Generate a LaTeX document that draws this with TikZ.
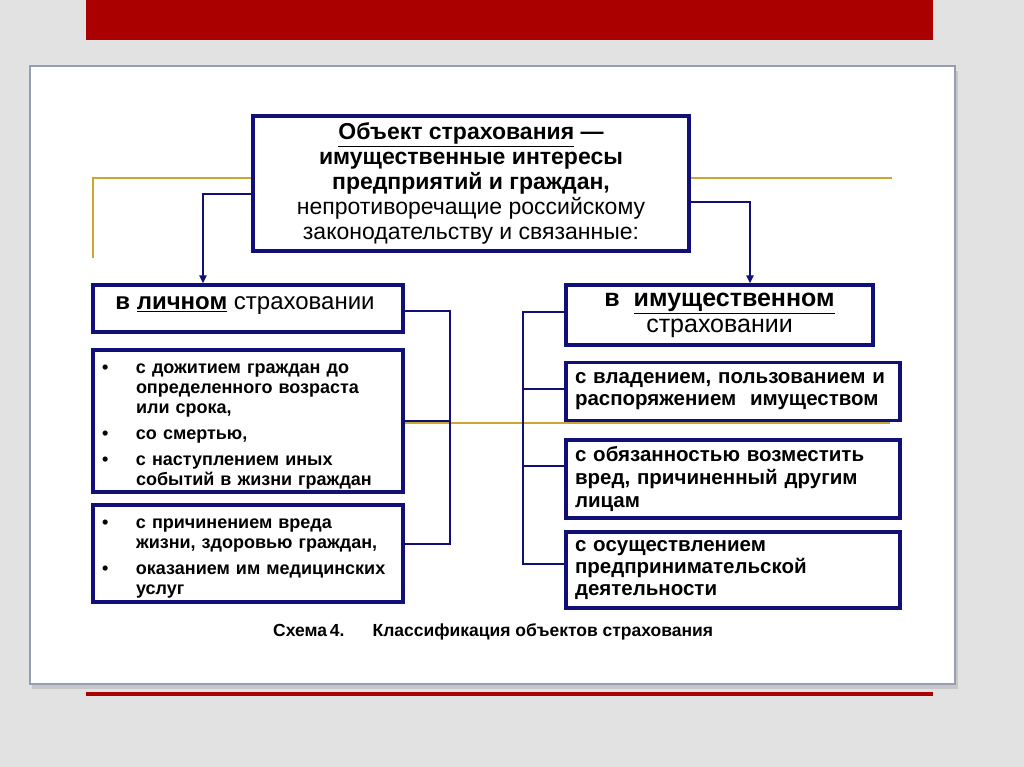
\documentclass[tikz,border=0pt]{standalone}
\usepackage{fontspec}
\setmainfont{Liberation Sans}
\usetikzlibrary{arrows.meta}
\definecolor{navy}{RGB}{16,16,120}
\definecolor{gold}{RGB}{200,168,48}
\definecolor{redbar}{RGB}{170,0,0}
\definecolor{bgcol}{RGB}{226,226,226}
\definecolor{panelborder}{RGB}{150,158,178}
\newcommand{\bitm}[1]{\par\hangindent=34pt\hangafter=1\noindent\makebox[34pt][l]{\textbullet}#1\par}
\newcommand{\isep}{\vspace{6pt}}
\begin{document}
\begin{tikzpicture}[x=1pt,y=-1pt,
  box/.style={draw=navy, line width=3.2pt, fill=white, inner sep=0pt, inner xsep=9pt},
  conn/.style={draw=navy, line width=2.6pt},
  arr/.style={conn, -{Triangle[length=8pt,width=7pt]}},
  goldline/.style={draw=gold, line width=2.8pt},
  thingold/.style={draw=gold, line width=1.6pt}]
\useasboundingbox (0,0) rectangle (1024,767);
\fill[bgcol] (0,0) rectangle (1024,767);
\fill[redbar] (86,0) rectangle (933,40);
\fill[black!22] (32,71) rectangle (958,689);
\draw[panelborder, line width=1.5pt, fill=white] (30,66) rectangle (955,684);
\fill[redbar] (86,692) rectangle (933,696);

\draw[goldline] (93,258) -- (93,178) -- (260,178);
\draw[goldline] (685,178) -- (892,178);
\draw[thingold] (403,423) -- (890,423);

\node[box, minimum width=436pt, minimum height=135pt, align=center,
  font=\fontsize{23}{25}\selectfont] (top) at (471,183.5)
  {\textbf{\underline{Объект страхования} —}\\ \textbf{имущественные интересы}\\
   \textbf{предприятий и граждан,}\\ непротиворечащие российскому\\ законодательству и связанные:};

\node[box, minimum width=310pt, minimum height=47pt] (l1) at (248,308.5) {};
\node[font=\fontsize{24}{26}\selectfont, inner sep=0pt] (l1t) at (245,306) {\textbf{в \underline{личном}} страховании};

\node[box, minimum width=310pt, minimum height=142pt, text width=292pt, align=left,
  font=\bfseries\fontsize{18}{20}\selectfont] (l2) at (248,421)
  {\bitm{с дожитием граждан до\newline определенного возраста\newline или срока,}\isep
   \bitm{со смертью,}\isep
   \bitm{с наступлением иных\newline событий в жизни граждан}};

\node[box, minimum width=310pt, minimum height=97pt, text width=292pt, align=left,
  font=\bfseries\fontsize{18}{20}\selectfont] (l3) at (248,553.5)
  {\bitm{с причинением вреда\newline жизни, здоровью граждан,}\isep
   \bitm{оказанием им медицинских\newline услуг}};

\node[box, minimum width=307pt, minimum height=60pt, align=center,
  font=\fontsize{25}{26}\selectfont] (r1) at (719.5,315)
  {\textbf{в\ \ \underline{имущественном}}\\ страховании};

\node[box, minimum width=334pt, minimum height=58pt, text width=316pt, align=left,
  font=\bfseries\fontsize{20.5}{22}\selectfont] (r2) at (733,391.5)
  {с владением, пользованием и\newline распоряжением\ \ имуществом};
\node[box, minimum width=334pt, minimum height=78pt, text width=316pt, align=left,
  font=\bfseries\fontsize{20.5}{23}\selectfont] (r3) at (733,479)
  {с обязанностью возместить\newline вред, причиненный другим\newline лицам};
\node[box, minimum width=334pt, minimum height=76pt, text width=316pt, align=left,
  font=\bfseries\fontsize{20.5}{22}\selectfont] (r4) at (733,570)
  {с осуществлением\newline предпринимательской\newline деятельности};

\coordinate (al) at (203,194);
\coordinate (ar) at (750,202);
\draw[arr] (top.west |- al) -- (al) -- (al |- l1.north);
\draw[arr] (top.east |- ar) -- (ar) -- (ar |- r1.north);

\coordinate (lbt) at (450,311);
\coordinate (lbb) at (450,544);
\draw[conn] (l1.east |- lbt) -- (lbt) -- (lbb) -- (l3.east |- lbb);
\draw[conn] (l2.east) -- (l2.east -| lbt);

\coordinate (rbt) at (523,312);
\coordinate (rb2) at (523,389);
\coordinate (rb3) at (523,466);
\coordinate (rbb) at (523,564);
\draw[conn] (r1.west |- rbt) -- (rbt) -- (rbb) -- (r4.west |- rbb);
\draw[conn] (rb2) -- (r2.west |- rb2);
\draw[conn] (rb3) -- (r3.west |- rb3);

\node[anchor=west, inner sep=0pt, font=\bfseries\fontsize{17.5}{19}\selectfont] (cap) at (273,632)
  {Схема\,4.\hspace{28pt}Классификация объектов страхования};
\end{tikzpicture}
\end{document}
